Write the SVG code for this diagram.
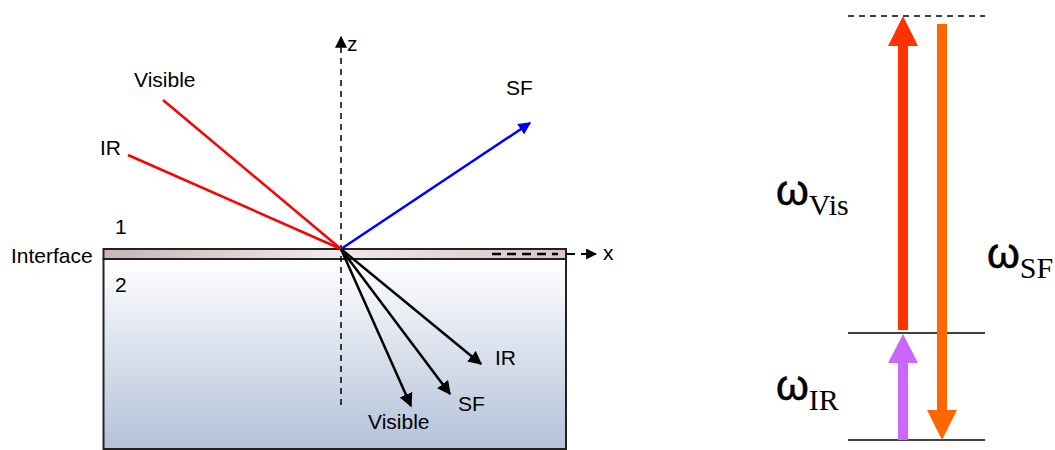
<svg xmlns="http://www.w3.org/2000/svg" width="1055" height="450" viewBox="0 0 1055 450">
<defs>
<linearGradient id="bulk" x1="0" y1="0" x2="0" y2="1">
<stop offset="0" stop-color="#FFFFFF"/>
<stop offset="1" stop-color="#B3C1D9"/>
</linearGradient>
<linearGradient id="strip" x1="0" y1="0" x2="1" y2="0">
<stop offset="0" stop-color="#C9B5B3"/>
<stop offset="0.5" stop-color="#F2E8E8"/>
<stop offset="1" stop-color="#D9C5C5"/>
</linearGradient>
<marker id="ah" viewBox="0 0 10 10" refX="9" refY="5" markerWidth="5.5" markerHeight="5.5" orient="auto" markerUnits="strokeWidth">
<path d="M0,0 L10,5 L0,10 z" fill="#000"/>
</marker>
<marker id="ahs" viewBox="0 0 10 10" refX="9" refY="5" markerWidth="8" markerHeight="8" orient="auto" markerUnits="strokeWidth">
<path d="M0,0 L10,5 L0,10 z" fill="#000"/>
</marker>
<marker id="ahb" viewBox="0 0 10 10" refX="9" refY="5" markerWidth="5" markerHeight="5" orient="auto" markerUnits="strokeWidth">
<path d="M0,0 L10,5 L0,10 z" fill="#0000FF"/>
</marker>
</defs>
<style>
.lbl{font-family:"Liberation Sans",Arial,sans-serif;font-size:21px;fill:#000}
.om{font-family:"Liberation Sans",Arial,sans-serif;font-size:42px;fill:#000;stroke:#000;stroke-width:0.6}
.sub{font-family:"Liberation Serif","Times New Roman",serif;font-size:30px;fill:#000}
.lvl{stroke:#000;stroke-width:1.5}
.ray{stroke-width:2.5;fill:none}
</style>
<g id="medium">
<rect x="103.5" y="259" width="462.5" height="190" fill="url(#bulk)" stroke="#222" stroke-width="2"/>
<rect x="103.5" y="249" width="462.5" height="10" fill="url(#strip)" stroke="#222" stroke-width="2"/>
</g>
<g id="labels">
<text class="lbl" x="115" y="234">1</text>
<text class="lbl" x="115" y="292">2</text>
<text class="lbl" x="11" y="263">Interface</text>
<text class="lbl" x="347" y="51">z</text>
<text class="lbl" x="603" y="260">x</text>
<text class="lbl" x="134" y="87">Visible</text>
<text class="lbl" x="100" y="155">IR</text>
<text class="lbl" x="506" y="95">SF</text>
<text class="lbl" x="495" y="365">IR</text>
<text class="lbl" x="458" y="411">SF</text>
<text class="lbl" x="368" y="429">Visible</text>
</g>
<g id="connectors">
<line x1="341" y1="405" x2="341" y2="37" stroke="#000" stroke-width="1.5" stroke-dasharray="6,5" marker-end="url(#ahs)"/>
<line x1="492" y1="254" x2="558" y2="254" stroke="#000" stroke-width="2.5" stroke-dasharray="9,6"/>
<line x1="566" y1="254" x2="575" y2="254" stroke="#000" stroke-width="2"/>
<line x1="581" y1="254" x2="596" y2="254" stroke="#000" stroke-width="2" marker-end="url(#ah)"/>
<line class="ray" x1="163" y1="100" x2="341" y2="249" stroke="#FF0000"/>
<line class="ray" x1="128" y1="155" x2="341" y2="249" stroke="#FF0000"/>
<line class="ray" x1="341" y1="249" x2="530" y2="123" stroke="#0000FF" marker-end="url(#ahb)"/>
<line class="ray" x1="341" y1="249" x2="481" y2="364" stroke="#000" marker-end="url(#ah)"/>
<line class="ray" x1="341" y1="249" x2="450" y2="394" stroke="#000" marker-end="url(#ah)"/>
<line class="ray" x1="341" y1="249" x2="411" y2="406" stroke="#000" marker-end="url(#ah)"/>
</g>
<g id="levels">
<line class="lvl" x1="848" y1="16" x2="985" y2="16" stroke-dasharray="6,5"/>
<line class="lvl" x1="848" y1="333" x2="985" y2="333"/>
<line class="lvl" x1="848" y1="440" x2="985" y2="440" stroke-width="2"/>
</g>
<g id="arrow-vis">
<path d="M898,330 L898,46 L888,46 L903,16 L918,46 L908,46 L908,330 z" fill="#FF3300"/>
</g>
<g id="arrow-ir">
<path d="M898,440 L898,363 L888,363 L903,334 L918,363 L908,363 L908,440 z" fill="#CC66FF"/>
</g>
<g id="arrow-sf">
<path d="M937,24 L947,24 L947,410 L957,410 L942,440 L927,410 L937,410 z" fill="#FF6600"/>
</g>
<g id="omega-labels">
<text x="776" y="205"><tspan class="om">ω</tspan><tspan class="sub" dy="10">Vis</tspan></text>
<text x="987" y="268"><tspan class="om">ω</tspan><tspan class="sub" dy="10">SF</tspan></text>
<text x="776" y="400"><tspan class="om">ω</tspan><tspan class="sub" dy="10">IR</tspan></text>
</g>
</svg>
